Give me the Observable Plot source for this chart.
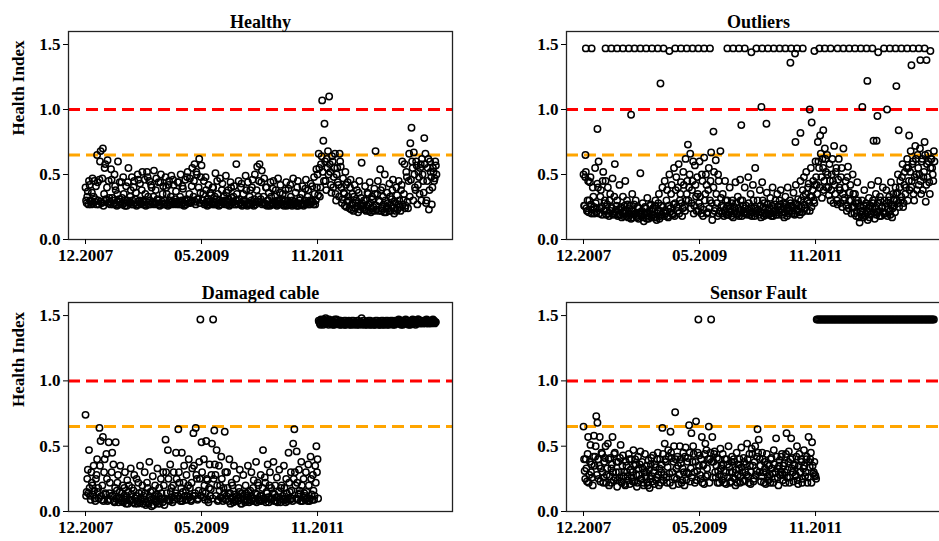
<!DOCTYPE html>
<html><head><meta charset="utf-8">
<script src="https://cdn.jsdelivr.net/npm/d3@7"></script>
<script src="https://cdn.jsdelivr.net/npm/@observablehq/plot@0.6"></script>
<style>
body{margin:0;background:#fff;}
#wrap{position:relative;width:939px;height:541px;overflow:hidden;background:#fff;}
</style></head><body><div id="wrap"></div>
<script>
// ---- data (values in hundredths of the Health Index; one sample every 3 index steps,
//      a second interleaved set of samples sits half a step later) ----
const panelTitles = ["Healthy", "Outliers", "Damaged cable", "Sensor Fault"];
const yAxisLabel = "Health Index";
const xTickIndex = [0, 300, 600];
const xTickLabels = ["12.2007", "05.2009", "11.2011"];
const yTicks = [0, 0.5, 1.0, 1.5];
const alarmLevel = 1.0;
const warningLevel = 0.65;
const sampleStep = 3;

const healthy = [
40,28,37,45,30,27,47,33,29,41, 65,30,46,68,28,70,35,58,30,61,
45,29,54,32,27,50,38,26,60,31, 29,44,27,35,26,41,30,55,28,38,
48,27,45,31,26,50,29,43,27,52, 30,46,26,52,33,45,27,40,29,53,
28,47,31,44,26,50,29,41,27,48, 35,26,45,30,49,27,42,29,37,28,
44,27,50,30,39,26,46,31,52,28, 47,29,55,33,58,27,50,31,62,36,
57,30,45,28,38,26,42,29,34,27, 40,27,51,31,35,26,47,29,43,28,
30,49,27,38,26,44,32,29,41,27, 58,30,45,28,40,26,35,29,49,27,
44,27,38,30,46,26,50,29,56,33, 58,31,53,28,47,27,40,30,36,26,
33,27,45,29,38,26,47,30,42,27, 35,26,30,44,27,39,28,33,26,47,
29,36,26,45,28,32,27,41,26,30, 46,28,38,27,43,30,29,48,27,54,
50,66,33,58,107,76,89,45,62,68, 110,52,36,60,48,66,30,55,42,66,
56,28,47,35,52,25,44,30,40,23, 35,22,42,28,38,21,45,26,59,24,
30,41,22,36,27,44,21,33,25,39, 68,23,45,30,54,22,40,27,50,21,
36,24,43,22,31,46,20,28,40,23, 45,25,38,60,30,58,26,48,24,66,
74,86,55,67,40,60,27,52,35,58, 62,45,78,66,30,55,23,60,48,40,
52,47,57
];
const healthyB = [
30,33,27,42,29,36,28,45,31,27, 44,27,60,29,47,26,55,31,40,28,
32,27,46,30,28,41,27,35,29,44, 27,32,48,28,30,26,44,29,33,27,
30,40,28,36,27,46,30,28,38,29, 27,35,29,48,27,30,42,28,33,27,
38,28,30,27,44,28,35,30,27,40, 28,42,27,33,29,46,28,31,27,44,
29,33,27,41,28,30,27,48,30,35, 28,41,30,45,29,52,31,40,28,48,
30,35,27,48,29,31,27,36,28,40, 29,33,27,45,28,30,27,38,29,33,
27,36,29,31,27,40,28,33,27,30, 35,27,31,28,43,27,30,28,38,26,
28,33,27,40,28,31,27,38,29,45, 29,44,27,33,28,40,26,30,27,44,
28,39,27,33,28,30,27,36,28,31, 27,29,38,26,30,28,42,27,30,28,
27,28,40,26,30,27,35,28,27,39, 28,33,27,30,28,41,27,35,30,40,
34,55,40,64,52,45,60,38,55,50, 58,42,64,40,55,35,50,44,33,60,
40,31,36,26,42,29,33,24,46,27, 28,33,24,30,26,36,23,32,28,26,
23,30,26,35,22,28,24,31,22,35, 26,35,22,29,38,24,33,21,30,25,
28,22,33,26,38,24,29,22,34,27, 30,22,42,27,35,24,52,29,45,33,
46,60,30,50,38,57,42,48,55,30, 50,36,58,28,45,62,38,52,27,55,
45,60,50
];

const outliersBase = [
50,26,52,22,45,30,48,20,40,25, 55,21,43,60,24,38,19,52,28,45,
22,40,18,35,25,47,20,58,23,30, 19,42,24,17,33,22,45,18,27,20,
26,16,35,22,19,30,17,24,20,51, 18,28,14,25,20,32,16,22,27,19,
24,17,30,15,22,35,18,26,40,21, 45,20,38,17,50,24,42,19,55,28,
48,22,58,30,44,18,52,25,62,35, 73,40,66,28,45,20,57,33,48,22,
60,25,50,18,63,35,42,21,55,30, 67,15,40,22,61,28,50,20,68,26,
35,18,45,24,30,19,40,22,28,17, 25,44,20,33,18,46,23,30,21,40,
26,19,48,22,35,18,42,24,55,20, 30,21,38,17,44,25,28,19,36,23,
20,32,18,40,24,27,19,35,22,30, 38,21,28,17,33,24,40,20,30,26,
22,36,19,42,27,31,21,45,25,38, 48,24,52,30,43,22,55,33,45,28,
60,42,75,55,80,48,62,38,70,52, 65,40,58,30,50,45,72,35,55,27,
62,38,48,25,70,32,45,22,56,30, 42,20,50,25,35,18,44,28,13,22,
30,17,38,20,26,15,32,19,42,24, 28,16,35,21,45,18,30,24,40,20,
25,38,18,30,22,44,17,35,26,40, 30,50,25,45,33,58,28,52,40,62,
55,38,68,45,60,30,72,50,65,42, 70,35,62,48,75,29,58,66,44,55,
62,50,68
];
const outliersB = [
26,48,24,30,21,44,27,23,33,20, 28,24,40,20,33,25,45,22,30,19,
27,20,30,22,24,19,33,21,26,18, 23,19,25,21,18,26,20,30,17,24,
19,22,17,27,20,18,25,16,21,19, 22,17,20,24,16,21,18,26,17,23,
19,26,17,20,28,16,22,19,25,18, 22,30,18,26,21,35,20,27,18,38,
25,40,20,35,28,24,42,22,30,45, 30,50,24,38,60,26,42,22,35,28,
33,20,45,23,30,50,20,38,24,45, 28,20,52,24,35,18,45,22,32,20,
25,22,30,19,26,21,24,18,30,20, 22,28,19,24,21,30,18,26,20,24,
20,23,28,19,25,21,30,18,24,22, 23,19,26,21,30,18,24,20,27,19,
24,20,26,18,22,30,21,25,19,27, 23,19,25,21,27,18,24,22,28,20,
25,20,28,23,22,26,19,30,21,33, 27,35,22,40,28,33,25,38,30,42,
48,35,60,40,66,32,55,45,62,40, 50,34,45,38,62,28,42,52,30,46,
40,28,55,35,30,40,26,48,24,36, 30,25,35,20,28,22,30,17,25,19,
22,26,18,28,21,24,17,26,20,30, 21,25,19,28,22,33,18,25,21,30,
20,28,23,33,19,27,24,30,21,35, 36,28,40,30,48,25,42,35,55,30,
45,52,40,58,35,48,62,38,55,50, 45,60,38,52,65,42,48,60,35,62,
55,45,60
];
const outlierSpikeIdx = [5,6,21,36,57,72,87,102,117,123,132,147,162,177,192,199,207,222,237,252,267,282,297,312,327,336,
372,387,402,408,417,434,447,460,462,473,477,492,507,522,535,537,547,548,552,561,567,585,590,597,
610,620,624,639,657,672,687,702,717,721,732,734,747,750,758,760,762,777,785,792,807,809,815,822,837,842,848,852,867,871,882,887,897];
const outlierSpikeVal = [65,147,147,85,147,147,147,147,147,96,147,147,147,147,147,120,147,145,147,147,147,147,147,147,147,83,
147,147,147,88,147,144,147,102,147,89,147,147,147,147,136,147,143,75,147,82,147,100,90,145,
147,84,147,147,147,147,147,147,147,102,147,122,147,76,76,95,144,147,100,147,147,118,84,147,147,80,134,147,147,138,147,138,145];

const damagedCable = [
74,15,32,47,12,30,20,35,10,25, 40,18,64,54,9,57,30,14,44,8,
53,22,12,45,36,7,53,16,28,10, 35,8,20,12,30,6,24,15,9,33,
18,7,28,10,25,6,14,35,9,20, 12,30,5,22,8,38,15,4,27,10,
20,7,33,12,6,25,10,30,5,55, 14,47,9,36,18,7,30,12,45,10,
63,22,8,45,15,35,9,28,12,40, 18,8,33,60,12,64,25,10,38,147,
53,15,40,9,54,24,7,36,17,52, 147,62,28,47,8,35,20,42,10,18,
61,9,30,14,40,6,22,11,35,8, 25,10,18,32,6,14,28,9,20,12,
35,7,16,30,10,24,8,38,13,20, 8,28,12,47,9,22,15,36,7,30,
18,10,38,13,8,26,11,32,7,20, 12,35,9,25,8,45,15,30,10,52,
63,20,46,9,32,14,38,8,25,12, 30,10,36,8,42,13,28,9,35,50,
40,
146,144,147,145,143,146,148,144,145,147, 144,146,143,145,147,144,146,145,143,146,
145,144,146,143,145,144,146,145,143,144, 146,144,145,143,146,144,145,148,144,146,
143,145,144,146,143,145,144,145,143,146, 144,145,143,144,146,143,145,144,146,143,
145,144,146,145,143,144,146,145,144,147, 145,143,146,144,145,147,144,146,145,143,
146,147,145,144,146,145,147,144,146,145, 144,146,145,147,144,146,145,144,146,145,
144,145
];
const damagedCableB = [
12,25,14,18,9,22,13,16,8,28, 15,10,35,12,20,8,40,13,25,9,
14,9,30,12,8,18,10,22,7,15, 10,14,7,18,9,12,6,20,8,13,
9,16,6,12,8,22,7,10,15,6, 9,14,7,18,6,11,9,16,5,12,
8,13,6,18,9,14,7,20,10,30, 9,25,8,15,11,20,9,14,25,12,
30,10,18,8,22,12,16,9,20,11, 9,22,12,35,14,28,9,16,25,12,
30,11,20,14,25,9,18,12,28,10, 25,36,12,20,9,16,11,25,8,14,
30,12,18,8,14,10,20,7,13,9, 12,8,15,10,6,12,9,7,14,8,
15,9,12,8,18,10,14,7,22,9, 12,8,18,10,26,7,14,11,20,9,
10,14,8,20,11,7,15,9,18,10, 9,18,7,14,10,22,9,16,8,25,
30,10,22,13,16,8,20,11,14,9, 15,8,20,10,25,9,16,12,22,30,
10,
145,143,146,144,147,145,144,146,143,145, 144,146,145,143,144,147,145,144,146,143,
145,144,143,146,145,144,143,145,146,144, 143,145,144,146,143,144,145,143,146,144,
145,143,144,145,146,143,144,145,143,144, 146,144,143,145,144,146,143,145,144,146,
143,144,145,146,144,143,145,144,146,145, 144,146,143,145,144,146,145,143,144,146,
145,144,146,143,145,147,144,146,145,144, 146,145,144,146,145,144,146,145,147,146,
145
];

const sensorFault = [
65,31,40,23,57,28,51,36,20,58, 42,73,68,25,57,33,44,22,38,50,
28,52,20,41,33,57,24,45,30,19, 38,26,51,22,43,30,20,35,27,44,
21,40,30,47,23,36,19,42,28,46, 25,33,20,44,30,22,39,18,36,27,
43,21,34,26,45,20,40,30,64,24, 52,38,22,47,29,61,41,20,50,76,
33,42,21,50,37,24,45,20,49,30, 41,66,23,60,38,44,22,69,31,147,
43,25,57,35,21,52,47,28,65,40, 147,57,38,46,26,41,31,22,48,35,
44,27,40,21,36,50,30,23,42,26, 38,20,45,28,33,22,49,30,41,24,
36,52,27,44,21,48,35,25,50,31, 63,55,40,23,45,30,38,21,44,27,
35,22,41,29,47,25,56,33,20,39, 30,44,24,37,22,60,32,46,26,56,
41,23,35,28,50,21,44,30,38,25, 47,27,40,22,57,34,45,53,29,38,
27,
147,147,147,147,147,147,147,147,147,147, 147,147,147,147,147,147,147,147,147,147,
147,147,147,147,147,147,147,147,147,147, 147,147,147,147,147,147,147,147,147,147,
147,147,147,147,147,147,147,147,147,147, 147,147,147,147,147,147,147,147,147,147,
147,147,147,147,147,147,147,147,147,147, 147,147,147,147,147,147,147,147,147,147,
147,147,147,147,147,147,147,147,147,147, 147,147,147,147,147,147,147,147,147,147,
147,147
];
const sensorFaultB = [
40,25,33,44,22,38,30,26,42,35, 50,28,40,35,23,45,30,26,41,22,
33,40,27,22,36,30,44,26,38,24, 30,41,23,35,27,21,38,30,24,40,
32,26,23,35,40,28,22,33,36,25, 38,22,30,27,35,20,32,25,41,23,
30,36,24,40,28,33,22,36,44,28, 40,26,34,42,22,45,30,38,26,40,
25,35,28,40,22,33,30,42,24,38, 29,45,33,26,50,30,38,24,45,35,
28,40,22,36,44,27,33,40,22,45, 38,26,44,30,35,22,40,28,33,24,
36,22,30,40,26,34,22,38,30,40, 25,32,22,36,40,27,34,23,38,30,
28,40,22,35,30,44,23,38,28,42, 45,30,35,27,40,22,33,30,36,24,
28,40,33,22,36,30,42,26,35,28, 42,28,35,30,44,26,38,22,40,33,
30,36,27,42,24,35,30,40,22,33, 35,30,42,26,38,40,22,35,30,28,
25
];

// ---- drawing ----
const wrap = document.getElementById("wrap");
const fontFamily = "'Liberation Serif', 'Times New Roman', serif";

function panel({title, values, valuesB, spikeIdx, spikeVal, left, top, width, height, mL, mR, mT, mB, label}) {
  const data = values.map((v, i) => ({x: i * sampleStep, y: v / 100}));
  valuesB.forEach((v, i) => data.push({x: i * sampleStep + sampleStep / 2, y: v / 100}));
  if (spikeIdx) spikeIdx.forEach((x, j) => data.push({x, y: spikeVal[j] / 100}));
  const marks = [
    Plot.ruleY([alarmLevel], {stroke: "#ff0000", strokeWidth: 3, strokeDasharray: "12,6"}),
    Plot.ruleY([warningLevel], {stroke: "#ffa500", strokeWidth: 3, strokeDasharray: "12,6"}),
    Plot.dot(data, {x: "x", y: "y", r: 3.2, stroke: "#000", strokeWidth: 1.5, fill: "none"}),
    Plot.frame({stroke: "#222", strokeWidth: 1.3}),
    Plot.axisY({ticks: yTicks, tickFormat: d3.format(".1f"), tickSize: 5, tickPadding: 3, label: null, fontSize: 17}),
    Plot.axisX({ticks: xTickIndex, tickFormat: d => xTickLabels[xTickIndex.indexOf(d)], tickSize: 5, tickPadding: 4, label: null, fontSize: 17}),
    Plot.text([title], {text: d => d, frameAnchor: "top", dy: -16, fontSize: 18, fontWeight: "bold"})
  ];
  if (label) marks.push(Plot.text([label], {text: d => d, frameAnchor: "left", rotate: -90, dx: -50, fontSize: 17, fontWeight: "bold"}));
  const svg = Plot.plot({
    width, height, marginLeft: mL, marginRight: mR, marginTop: mT, marginBottom: mB,
    style: {fontFamily, fontWeight: "bold", fontSize: "17px", color: "#000", background: "#fff", overflow: "visible"},
    x: {type: "linear", domain: [-44, 949]},
    y: {domain: [0, 1.6]},
    marks
  });
  svg.style.position = "absolute";
  svg.style.left = left + "px";
  svg.style.top = top + "px";
  svg.style.maxWidth = "none";
  wrap.appendChild(svg);
}

panel({title: panelTitles[0], values: healthy, valuesB: healthyB, left: 0, top: 0, width: 470, height: 270, mL: 68, mR: 18, mT: 31, mB: 31, label: yAxisLabel});
panel({title: panelTitles[1], values: outliersBase, valuesB: outliersB, spikeIdx: outlierSpikeIdx, spikeVal: outlierSpikeVal, left: 470, top: 0, width: 500, height: 270, mL: 96, mR: 20, mT: 31, mB: 31});
panel({title: panelTitles[2], values: damagedCable, valuesB: damagedCableB, left: 0, top: 270, width: 470, height: 271, mL: 68, mR: 18, mT: 32, mB: 30, label: yAxisLabel});
panel({title: panelTitles[3], values: sensorFault, valuesB: sensorFaultB, left: 470, top: 270, width: 500, height: 271, mL: 96, mR: 20, mT: 32, mB: 30});
</script></body></html>
